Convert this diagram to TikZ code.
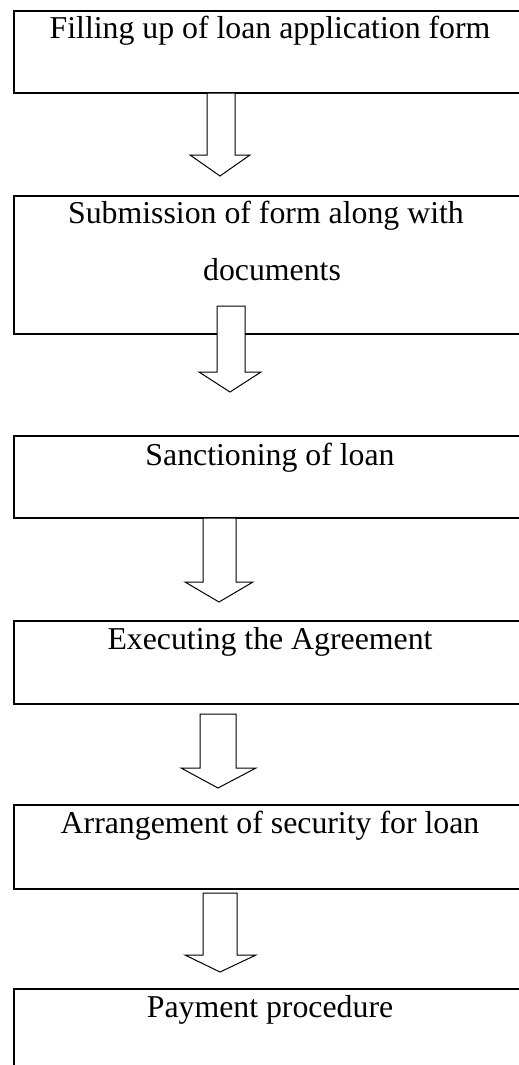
\documentclass[tikz,border=0pt]{standalone}
\usepackage{fontspec}
\setmainfont{Liberation Serif}
\begin{document}
\begin{tikzpicture}[x=1pt,y=-1pt,
  stepbox/.style={draw=black,line width=2pt,fill=none,inner sep=0pt,anchor=north west,minimum width=600pt},
  steptext/.style={anchor=base,inner sep=0pt,font=\fontsize{31.8}{36}\selectfont},
  blockarrow/.style={draw=black,fill=white,line width=1pt,line join=miter}
]
\useasboundingbox (0,0) rectangle (519,1065);
\clip (0,0) rectangle (519,1065);
% boxes
\node[stepbox,minimum height=82pt] (b1) at (12.5,10) {};
\node[stepbox,minimum height=138pt] (b2) at (12.5,195) {};
\node[stepbox,minimum height=82pt] (b3) at (12.5,435) {};
\node[stepbox,minimum height=83pt] (b4) at (12.5,620) {};
\node[stepbox,minimum height=84pt] (b5) at (12.5,804) {};
\node[stepbox,minimum height=120pt] (b6) at (12.5,988) {};
% texts
\node[steptext] (t1) at (270,38) {Filling up of loan application form};
\node[steptext] (t2a) at (266,223) {Submission of form along with};
\node[steptext] (t2b) at (272,280) {documents};
\node[steptext] (t3) at (270,465) {Sanctioning of loan};
\node[steptext] (t4) at (270,649) {Executing the Agreement};
\node[steptext] (t5) at (270,833) {Arrangement of security for loan};
\node[steptext] (t6) at (270,1017) {Payment procedure};
% block arrows
\draw[blockarrow] (207,93) -- (207,155) -- (190,155) -- (220,176) -- (250,155) -- (235,155) -- (235,93) -- cycle;
\draw[blockarrow] (217,306) -- (217,372) -- (199,372) -- (230,392) -- (261,372) -- (245,372) -- (245,306) -- cycle;
\draw[blockarrow] (203,518) -- (203,582) -- (185,582) -- (219,602) -- (253,582) -- (236,582) -- (236,518) -- cycle;
\draw[blockarrow] (200,714) -- (200,768) -- (181,768) -- (218,788) -- (256,768) -- (236,768) -- (236,714) -- cycle;
\draw[blockarrow] (203,893) -- (203,955) -- (185,955) -- (220,972) -- (256,955) -- (237,955) -- (237,893) -- cycle;
\end{tikzpicture}
\end{document}
